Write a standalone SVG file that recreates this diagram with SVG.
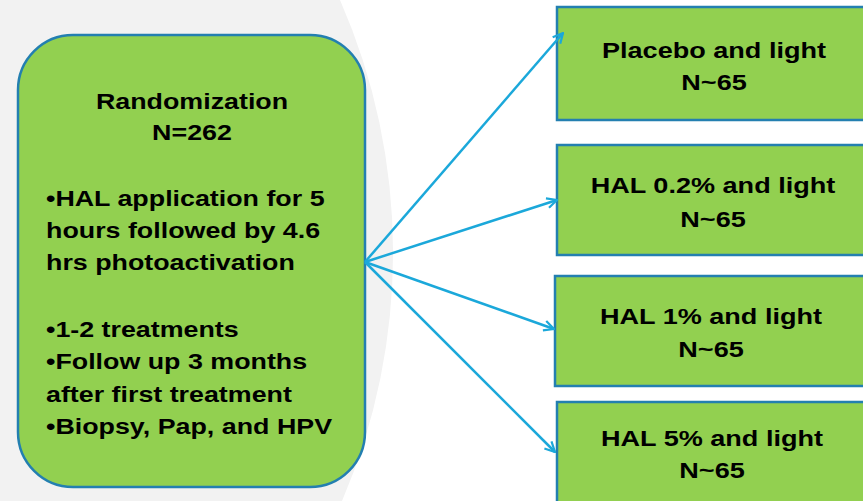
<svg xmlns="http://www.w3.org/2000/svg" width="863" height="501" viewBox="0 0 863 501">
<defs>
<style>
.node{fill:#92d050;stroke:#237fb0;stroke-width:2.5}
.t{font-family:"Liberation Sans",Arial,sans-serif;font-weight:bold;font-size:22px;fill:#000}
.c{text-anchor:middle}
.conn line{stroke:#1ba8da;stroke-width:2.5;fill:none;marker-end:url(#ah)}
</style>
<marker id="ah" viewBox="0 0 12 12" refX="11" refY="6" markerWidth="12" markerHeight="12" markerUnits="userSpaceOnUse" orient="auto">
<path d="M1,1 L11,6 L1,11" fill="none" stroke="#1ba8da" stroke-width="2.2"/>
</marker>
</defs>
<rect x="0" y="0" width="863" height="501" fill="#f2f2f2"/>
<path d="M340,0 A629,629 0 0 1 342,501 L863,501 L863,0 Z" fill="#ffffff"/>
<g id="randomization">
<rect class="node" x="18" y="35" width="347" height="452" rx="55" ry="55"/>
<text class="t c" transform="translate(192,109) scale(1.22,1)">Randomization</text>
<text class="t c" transform="translate(192,140) scale(1.22,1)">N=262</text>
<text class="t" transform="translate(46,206) scale(1.22,1)">•HAL application for 5</text>
<text class="t" transform="translate(46,238) scale(1.22,1)">hours followed by 4.6</text>
<text class="t" transform="translate(46,270) scale(1.22,1)">hrs photoactivation</text>
<text class="t" transform="translate(46,337) scale(1.22,1)">•1-2 treatments</text>
<text class="t" transform="translate(46,369) scale(1.22,1)">•Follow up 3 months</text>
<text class="t" transform="translate(46,402) scale(1.22,1)">after first treatment</text>
<text class="t" transform="translate(46,434) scale(1.22,1)">•Biopsy, Pap, and HPV</text>
</g>
<g id="placebo">
<rect class="node" x="557" y="7" width="320" height="113"/>
<text class="t c" transform="translate(714,58) scale(1.23,1)">Placebo and light</text>
<text class="t c" transform="translate(714,90) scale(1.23,1)">N~65</text>
</g>
<g id="hal02">
<rect class="node" x="557" y="145" width="320" height="110"/>
<text class="t c" transform="translate(713,193) scale(1.23,1)">HAL 0.2% and light</text>
<text class="t c" transform="translate(713,227) scale(1.23,1)">N~65</text>
</g>
<g id="hal1">
<rect class="node" x="555" y="276" width="320" height="110"/>
<text class="t c" transform="translate(711,324) scale(1.23,1)">HAL 1% and light</text>
<text class="t c" transform="translate(711,357) scale(1.23,1)">N~65</text>
</g>
<g id="hal5">
<rect class="node" x="557" y="402" width="320" height="120"/>
<text class="t c" transform="translate(712,446) scale(1.23,1)">HAL 5% and light</text>
<text class="t c" transform="translate(712,478) scale(1.23,1)">N~65</text>
</g>
<g class="conn" id="connectors">
<line x1="365" y1="262" x2="563" y2="33"/>
<line x1="365" y1="262" x2="557" y2="200"/>
<line x1="365" y1="262" x2="554" y2="329"/>
<line x1="365" y1="262" x2="555" y2="452"/>
</g>
</svg>
